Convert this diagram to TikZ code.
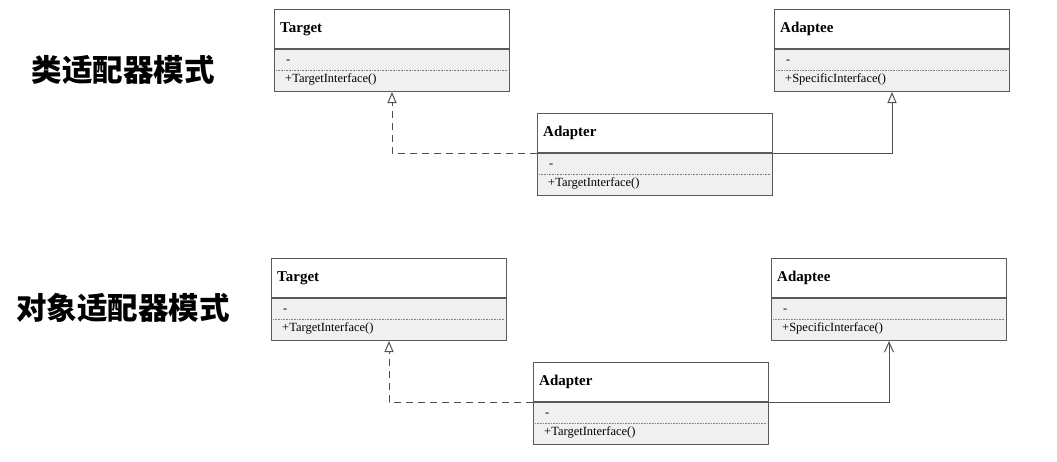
\documentclass[tikz,border=0pt]{standalone}
\usepackage{fontspec}
\setmainfont{Liberation Serif}
\newfontfamily\cjk{Noto Sans CJK SC}
\usetikzlibrary{arrows.meta,positioning}
\definecolor{boxline}{HTML}{5A5A5A}
\definecolor{bodyfill}{HTML}{F0F0F0}
\definecolor{conn}{HTML}{505050}
\tikzset{
  hdr/.style={draw=boxline, line width=1pt, fill=white, rectangle, minimum width=235pt, minimum height=39pt, inner sep=0pt, anchor=north west},
  bdy/.style={draw=boxline, line width=1pt, fill=bodyfill, rectangle, minimum width=235pt, minimum height=42pt, inner sep=0pt, anchor=north},
  ttl/.style={font=\fontsize{15}{17}\selectfont\bfseries, inner sep=0pt, anchor=west},
  mth/.style={font=\fontsize{12.5}{14}\selectfont, inner sep=0pt, anchor=west},
  dotsep/.style={draw=gray, line width=0.6pt, dash pattern=on 0.8pt off 0.8pt},
  reallink/.style={draw=conn, line width=1pt, dash pattern=on 7pt off 5pt},
  genlink/.style={draw=conn, line width=1pt},
  opentri/.style={-{Triangle[open, width=9pt, length=11pt, line width=1pt]}},
  openarr/.style={-{Straight Barb[width=9pt, length=10pt, line width=1pt]}},
  biglbl/.style={font=\cjk\bfseries\fontsize{30.5}{33}\selectfont, inner sep=0pt}
}
\newcommand{\umlclass}[5]{%
  \node[hdr] (#1h) at (#2,#3) {};
  \node[bdy] (#1b) at (#1h.south) {};
  \node[ttl] (#1t) at ([xshift=6pt]#1h.west) {#4};
  \node[mth] (#1d) at ([xshift=12pt,yshift=-13pt]#1h.south west) {-};
  \draw[dotsep] ([xshift=2pt,yshift=-21pt]#1h.south west) -- ([xshift=-2pt,yshift=-21pt]#1h.south east);
  \node[mth] (#1m) at ([xshift=11pt,yshift=-30pt]#1h.south west) {#5};
}
\begin{document}
\begin{tikzpicture}[x=1pt,y=-1pt]
\useasboundingbox (0,0) rectangle (1057,461);
% top: class adapter
\node[biglbl] (lbl1) at (123,70) {类适配器模式};
\umlclass{ta}{274}{9}{Target}{+TargetInterface()}
\umlclass{ae}{774}{9}{Adaptee}{+SpecificInterface()}
\umlclass{ad}{537}{113}{Adapter}{+TargetInterface()}
\draw[reallink, opentri] (adh.south west) -| (tab.south);
\draw[genlink, opentri] (adh.south east) -| (aeb.south);
% bottom: object adapter
\node[biglbl] (lbl2) at (123,308) {对象适配器模式};
\umlclass{tb}{271}{258}{Target}{+TargetInterface()}
\umlclass{be}{771}{258}{Adaptee}{+SpecificInterface()}
\umlclass{bd}{533}{362}{Adapter}{+TargetInterface()}
\draw[reallink, opentri] (bdh.south west) -| (tbb.south);
\draw[genlink, openarr] (bdh.south east) -| (beb.south);
\end{tikzpicture}
\end{document}
